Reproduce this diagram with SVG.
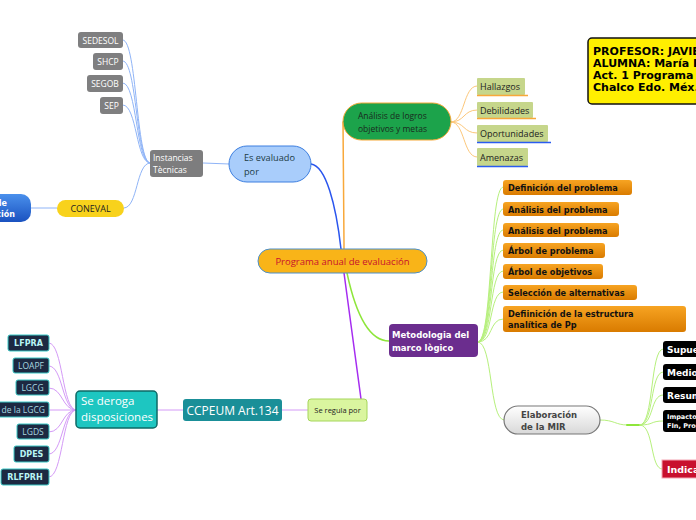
<svg xmlns="http://www.w3.org/2000/svg" width="696" height="520" viewBox="0 0 696 520">
<defs>
<linearGradient id="gOr" x1="0" y1="0" x2="0" y2="1"><stop offset="0" stop-color="#f7a422"/><stop offset="1" stop-color="#d97b00"/></linearGradient>
<linearGradient id="gBl" x1="0" y1="0" x2="0" y2="1"><stop offset="0" stop-color="#4a90ec"/><stop offset="1" stop-color="#1a52c0"/></linearGradient>
<linearGradient id="gGr" x1="0" y1="0" x2="0" y2="1"><stop offset="0" stop-color="#ffffff"/><stop offset="1" stop-color="#d8d8d8"/></linearGradient>
<style>
.os{font-family:"Open Sans","DejaVu Sans",sans-serif}
.bd{font-family:"DejaVu Sans","Verdana",sans-serif;font-weight:bold}
.c{fill:none;stroke-linecap:round}
.blue{stroke:#8fb4f7;stroke-width:1}
.gray{fill:#7f7f80}
.gt{fill:#fff;font-size:8.5px;text-anchor:middle}
.olive{fill:#c6d68b}
.ot{fill:#222;font-size:9px}
.orange{fill:url(#gOr)}
.obt{fill:#111;font-size:8.2px}
.dk{fill:#1d2942;stroke:#39c9c6;stroke-width:1}
.dkb{fill:#b8f4f4;font-size:8px;text-anchor:middle}
.dkn{fill:#a8d8e0;font-size:8.5px;text-anchor:middle}
.dke{fill:#a8d8e0;font-size:8.5px;text-anchor:end}
.blk{fill:#000}
.bt{fill:#fff;font-size:9px}
.pur{stroke:#d49af7;stroke-width:1}
.lg{stroke:#b6f07c;stroke-width:1}
.lor{stroke:#fcc77a;stroke-width:1}
.yt{fill:#000;font-size:11px}
</style>
</defs>

<g id="connectors">
<path class="c blue" d="M123,40 C137,40 136,163 150,163"/>
<path class="c blue" d="M123,61 C137,61 136,163 150,163"/>
<path class="c blue" d="M123,83 C137,83 136,163 150,163"/>
<path class="c blue" d="M123,105 C137,105 136,163 150,163"/>
<path class="c blue" d="M124,208 C138,208 136,163 150,163"/>
<path class="c blue" d="M31,208 L57,208"/>
<path class="c blue" d="M203,163 L229,164"/>
<path class="c" stroke="#2a55ee" stroke-width="1.5" d="M311,164 C326,166 336,205 341,249"/>
<path class="c" stroke="#f8a83a" stroke-width="1.5" d="M344,249 C344,200 343,150 343,122"/>
<path class="c lor" d="M451,122 C465,122 463,86 477,86"/>
<path class="c lor" d="M451,122 C465,122 463,110 477,110"/>
<path class="c lor" d="M451,122 C465,122 463,133 477,133"/>
<path class="c lor" d="M451,122 C465,122 463,157 477,157"/>
<path class="c" stroke="#8ee63b" stroke-width="1.5" d="M347,273 C356,315 370,341 389,341"/>
<path class="c" stroke="#a52cf0" stroke-width="1.5" d="M344,273 L361,399"/>
<path class="c lg" d="M478,342 C493,342 489,187 503,187"/>
<path class="c lg" d="M478,342 C493,342 489,209 503,209"/>
<path class="c lg" d="M478,342 C493,342 489,230 503,230"/>
<path class="c lg" d="M478,342 C493,342 489,250 503,250"/>
<path class="c lg" d="M478,342 C493,342 489,271 503,271"/>
<path class="c lg" d="M478,342 C493,342 489,292 503,292"/>
<path class="c lg" d="M478,342 C493,342 489,319 503,319"/>
<path class="c lg" d="M478,342 C493,342 489,420 504,420"/>
<path class="c lg" d="M600,420 C615,420 615,425 628,425 L640,425"/>
<path class="c" stroke="#8ee63b" stroke-width="2" d="M627,425 L641,425"/>
<path class="c lg" d="M640,425 C654,425 650,349 663,349"/>
<path class="c lg" d="M640,425 C654,425 650,372 663,372"/>
<path class="c lg" d="M640,425 C654,425 650,395 663,395"/>
<path class="c lg" d="M640,425 C654,425 650,421 663,421"/>
<path class="c lg" d="M640,425 C654,425 650,469 662,469"/>
<path class="c pur" d="M282,410 L308,410"/>
<path class="c pur" d="M157,410 L183,410"/>
<path class="c pur" d="M76,410 C62,410 63,343 49,343"/>
<path class="c pur" d="M76,410 C62,410 63,366 49,366"/>
<path class="c pur" d="M76,410 C62,410 63,388 49,388"/>
<path class="c pur" d="M76,410 L49,410"/>
<path class="c pur" d="M76,410 C62,410 63,432 49,432"/>
<path class="c pur" d="M76,410 C62,410 63,454 49,454"/>
<path class="c pur" d="M76,410 C62,410 63,477 49,477"/>
</g>

<g id="central">
<rect x="258" y="249" width="169" height="24" rx="12" fill="#f9b418" stroke="#4c8fc9" stroke-width="1"/>
<text class="os" x="342.5" y="265" font-size="9.5" fill="#c8102e" text-anchor="middle">Programa anual de evaluación</text>
</g>

<g id="es-evaluado">
<rect x="229" y="146" width="82" height="36" rx="18" fill="#a9cdfb" stroke="#3d7fe0" stroke-width="1"/>
<text class="os" x="244" y="161" font-size="9.2" fill="#1b3b45">Es evaluado</text>
<text class="os" x="244" y="175" font-size="9.2" fill="#1b3b45">por</text>
</g>

<g id="instancias">
<rect x="150" y="150" width="53" height="27" rx="3" fill="#7d7d7e"/>
<text class="os" x="153" y="161" font-size="8.5" fill="#fff">Instancias</text>
<text class="os" x="153" y="173" font-size="8.5" fill="#fff">Tècnicas</text>
</g>

<g id="sedesol"><rect class="gray" x="78" y="32" width="45" height="16" rx="3"/><text class="os gt" x="100.5" y="43.5">SEDESOL</text></g>
<g id="shcp"><rect class="gray" x="93" y="53" width="30" height="17" rx="3"/><text class="os gt" x="108" y="64.5">SHCP</text></g>
<g id="segob"><rect class="gray" x="87" y="75" width="36" height="17" rx="3"/><text class="os gt" x="105" y="86.5">SEGOB</text></g>
<g id="sep"><rect class="gray" x="100" y="97" width="23" height="17" rx="3"/><text class="os gt" x="111.5" y="108.5">SEP</text></g>

<g id="coneval">
<rect x="57" y="200" width="67" height="17" rx="8.5" fill="#f8d21c"/>
<text class="os" x="90.5" y="211.5" font-size="9" fill="#222" text-anchor="middle">CONEVAL</text>
</g>

<g id="unidad">
<rect x="-20" y="194" width="51" height="28" rx="10" fill="url(#gBl)"/>
<text class="bd" x="7" y="206" font-size="8" fill="#fff" text-anchor="end">Unidad de</text>
<text class="bd" x="15" y="217" font-size="8" fill="#fff" text-anchor="end">Evaluación</text>
</g>

<g id="analisis">
<rect x="343" y="103" width="108" height="37" rx="18.5" fill="#1ca34b" stroke="#f5a836" stroke-width="1"/>
<text class="os" x="358" y="119" font-size="8.5" fill="#1a2a1e">Análisis de logros</text>
<text class="os" x="358" y="132" font-size="8.5" fill="#1a2a1e">objetivos y metas</text>
</g>

<g id="hallazgos"><rect class="olive" x="477" y="78" width="48" height="17" rx="1"/><line x1="477" y1="95.5" x2="528" y2="95.5" stroke="#f8a83a" stroke-width="1.5"/><text class="os ot" x="480" y="90">Hallazgos</text></g>
<g id="debilidades"><rect class="olive" x="477" y="102" width="56" height="16" rx="1"/><line x1="477" y1="118.5" x2="536" y2="118.5" stroke="#f8a83a" stroke-width="1.5"/><text class="os ot" x="480" y="113.5">Debilidades</text></g>
<g id="oportunidades"><rect class="olive" x="477" y="125" width="71" height="17" rx="1"/><line x1="477" y1="142.5" x2="551" y2="142.5" stroke="#2a5cf0" stroke-width="1.5"/><text class="os ot" x="480" y="137">Oportunidades</text></g>
<g id="amenazas"><rect class="olive" x="477" y="148" width="51" height="18" rx="1"/><line x1="477" y1="166.5" x2="528" y2="166.5" stroke="#2a5cf0" stroke-width="1.5"/><text class="os ot" x="480" y="161">Amenazas</text></g>

<g id="metodologia">
<rect x="389" y="324" width="89" height="33" rx="4" fill="#6b2d8e"/>
<text class="bd" x="392" y="338" font-size="8.5" fill="#fff">Metodologia del</text>
<text class="bd" x="392" y="351" font-size="8.5" fill="#fff">marco lògico</text>
</g>

<g id="definicion"><rect class="orange" x="503" y="180" width="129" height="15" rx="3"/><text class="bd obt" x="508" y="191">Definición del problema</text></g>
<g id="analisis1"><rect class="orange" x="503" y="202" width="116" height="14" rx="3"/><text class="bd obt" x="508" y="212.5">Análisis del problema</text></g>
<g id="analisis2"><rect class="orange" x="503" y="223" width="116" height="14" rx="3"/><text class="bd obt" x="508" y="233.5">Análisis del problema</text></g>
<g id="arbol-problema"><rect class="orange" x="503" y="243" width="102" height="15" rx="3"/><text class="bd obt" x="508" y="254">Árbol de problema</text></g>
<g id="arbol-objetivos"><rect class="orange" x="503" y="264" width="100" height="15" rx="3"/><text class="bd obt" x="508" y="275">Árbol de objetivos</text></g>
<g id="seleccion"><rect class="orange" x="503" y="285" width="134" height="15" rx="3"/><text class="bd obt" x="508" y="296">Selección de alternativas</text></g>
<g id="estructura"><rect class="orange" x="503" y="306" width="183" height="26" rx="3"/><text class="bd obt" x="508" y="316.5">Defiinición de la estructura</text><text class="bd obt" x="508" y="327.5">analítica de Pp</text></g>

<g id="mir">
<rect x="504" y="406" width="96" height="28" rx="14" fill="url(#gGr)" stroke="#777" stroke-width="1.2"/>
<text class="bd" x="521" y="418" font-size="8.5" fill="#444">Elaboración</text>
<text class="bd" x="521" y="430" font-size="8.5" fill="#444">de la MIR</text>
</g>

<g id="supuestos"><rect class="blk" x="663" y="341" width="50" height="16" rx="3"/><text class="bd bt" x="667" y="352.5">Supuestos</text></g>
<g id="medios"><rect class="blk" x="663" y="364" width="50" height="16" rx="3"/><text class="bd bt" x="667" y="375.5">Medios</text></g>
<g id="resumen"><rect class="blk" x="663" y="387" width="50" height="16" rx="3"/><text class="bd bt" x="667" y="398.5">Resumen</text></g>
<g id="impacto"><rect class="blk" x="663" y="410" width="50" height="22" rx="3"/><text class="bd" x="667" y="419" font-size="6.5" fill="#fff">Impacto</text><text class="bd" x="667" y="428" font-size="6.5" fill="#fff">FIn, Propósito</text></g>
<g id="indicadores"><rect x="662" y="460" width="50" height="18" fill="#c8102e" stroke="#f4a6b4" stroke-width="1"/><text class="bd" x="667" y="473" font-size="9.5" fill="#fff">Indicadores</text></g>

<g id="regula">
<rect x="308" y="399" width="59" height="22" rx="3" fill="#daf59f" stroke="#a5d65a" stroke-width="1"/>
<text class="os" x="337.5" y="413" font-size="7.5" fill="#222" text-anchor="middle">Se regula por</text>
</g>

<g id="ccpeum">
<rect x="183" y="399" width="99" height="22" rx="3" fill="#1a8f98"/>
<text class="os" x="232.5" y="415" font-size="12" fill="#fff" text-anchor="middle">CCPEUM Art.134</text>
</g>

<g id="deroga">
<rect x="76" y="391" width="81" height="37" rx="4" fill="#1dc6c1" stroke="#0e6a66" stroke-width="1.5"/>
<text class="os" x="81" y="405" font-size="11.5" fill="#fff">Se deroga</text>
<text class="os" x="81" y="421" font-size="11.5" fill="#fff">disposiciones</text>
</g>

<g id="lfpra"><rect class="dk" x="8" y="335" width="41" height="16" rx="2"/><text class="bd dkb" x="28.5" y="346">LFPRA</text></g>
<g id="loapf"><rect class="dk" x="13" y="358" width="36" height="15" rx="2"/><text class="os dkn" x="31" y="368.5">LOAPF</text></g>
<g id="lgcg"><rect class="dk" x="16" y="380" width="33" height="15" rx="2"/><text class="os dkn" x="32.5" y="390.5">LGCG</text></g>
<g id="reforma-lgcg"><rect class="dk" x="-40" y="402" width="89" height="15" rx="2"/><text class="os dke" x="45" y="412.5">Reforma de la LGCG</text></g>
<g id="lgds"><rect class="dk" x="17" y="424" width="32" height="15" rx="2"/><text class="os dkn" x="33" y="434.5">LGDS</text></g>
<g id="dpes"><rect class="dk" x="14" y="446" width="35" height="16" rx="2"/><text class="bd dkb" x="31.5" y="457">DPES</text></g>
<g id="rlfprh"><rect class="dk" x="1" y="469" width="48" height="16" rx="2"/><text class="bd dkb" x="25" y="480">RLFPRH</text></g>

<g id="datos">
<rect x="588" y="38" width="120" height="66" rx="4" fill="#ffef00" stroke="#111" stroke-width="1.5"/>
<text class="bd yt" x="593" y="55">PROFESOR: JAVIER</text>
<text class="bd yt" x="593" y="67">ALUMNA: María E.</text>
<text class="bd yt" x="593" y="79">Act. 1 Programa anual</text>
<text class="bd yt" x="593" y="91">Chalco Edo. Méx.</text>
</g>
</svg>
